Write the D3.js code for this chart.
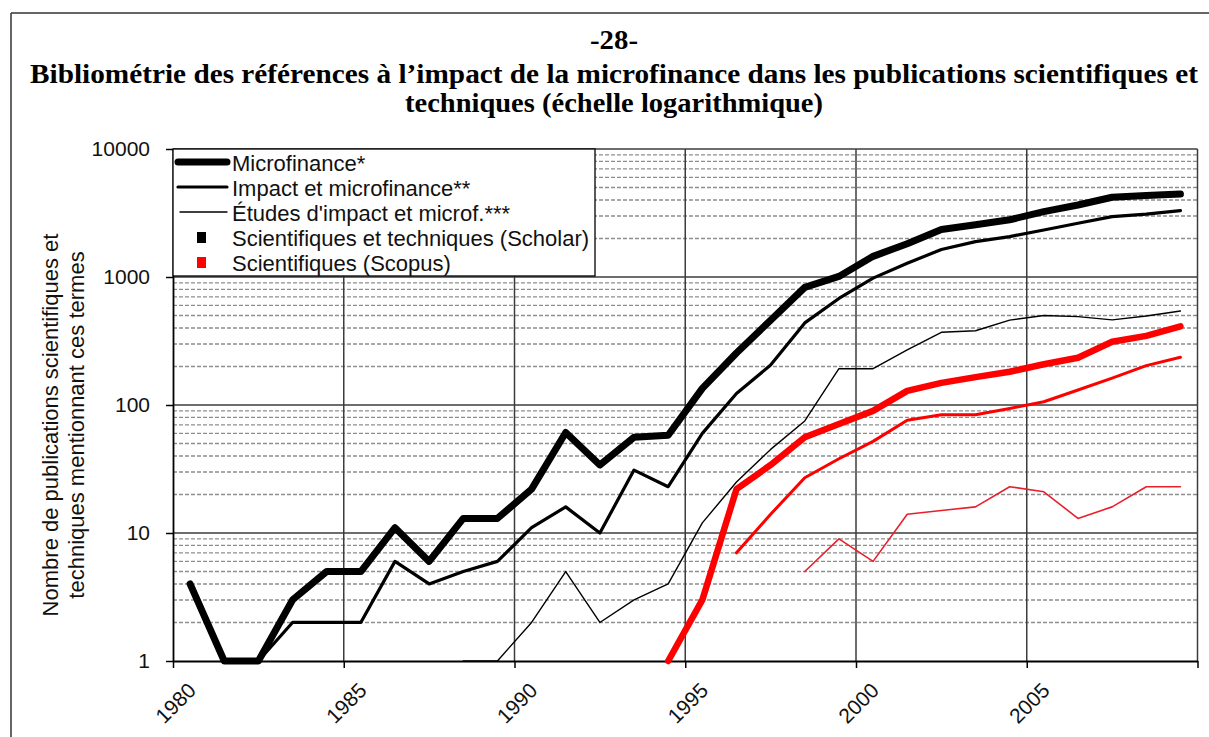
<!DOCTYPE html>
<html>
<head>
<meta charset="utf-8">
<script src="https://cdn.jsdelivr.net/npm/d3@7"></script>
<style>
  html, body { margin: 0; padding: 0; background: #fff; }
  svg { display: block; }
</style>
</head>
<body>
<svg id="chart" width="1209" height="737"></svg>
<script>
// ---------- DATA ----------
const years = [1980,1981,1982,1983,1984,1985,1986,1987,1988,1989,
               1990,1991,1992,1993,1994,1995,1996,1997,1998,1999,
               2000,2001,2002,2003,2004,2005,2006,2007,2008,2009];
// Scholar (black)
const microfinance = [4,1,1,3,5,5,11,6,13,13,22,61,34,56,58,135,255,460,830,1010,1450,1820,2350,2560,2800,3240,3650,4200,4330,4450];
const impactMicro  = [null,null,1,2,2,2,6,4,5,6,11,16,10,31,23,60,123,205,438,680,980,1280,1640,1890,2070,2330,2630,2960,3100,3300];
const etudesImpact = [null,null,null,null,null,null,null,null,1,1,2,5,2,3,4,12,25,45,75,192,192,270,370,380,460,500,490,462,496,543];
// Scopus (red)
const scopusMicro  = [null,null,null,null,null,null,null,null,null,null,null,null,null,null,1,3,22,34,56,71,90,129,149,165,182,208,234,312,347,412];
const scopusImpact = [null,null,null,null,null,null,null,null,null,null,null,null,null,null,null,null,7,14,27,38,52,76,84,84,94,106,131,162,203,236];
const scopusEtudes = [null,null,null,null,null,null,null,null,null,null,null,null,null,null,null,null,null,null,5,9,6,14,15,16,23,21,13,16,23,23];

const xTickYears = [1980,1985,1990,1995,2000,2005,2010];
const yTickValues = [1,10,100,1000,10000];

const titleLines = ["-28-",
  "Bibliométrie des références à l’impact de la microfinance dans les publications scientifiques et",
  "techniques (échelle logarithmique)"];
const yTitleLines = ["Nombre de publications scientifiques et", "techniques mentionnant ces termes"];
const legendLabels = ["Microfinance*", "Impact et microfinance**", "Études d'impact et microf.***",
                      "Scientifiques et techniques (Scholar)", "Scientifiques (Scopus)"];

// ---------- LAYOUT ----------
const svg = d3.select("#chart");
const L = 173, R = 1197.5, T = 149, B = 661;
const sans = "'Liberation Sans', Arial, sans-serif";
const serif = "'Liberation Serif', 'Times New Roman', serif";

svg.append("rect").attr("width",1209).attr("height",737).attr("fill","#fff");

// page frame
svg.append("line").attr("x1",11).attr("x2",1209).attr("y1",13).attr("y2",13).attr("stroke","#333").attr("stroke-width",1.5);
svg.append("line").attr("x1",11).attr("x2",11).attr("y1",13).attr("y2",737).attr("stroke","#333").attr("stroke-width",1.5);

// title
const tY = [49, 83, 112];
const tLen = [48, 1168, 418];
titleLines.forEach((t,i) => {
  svg.append("text").attr("x",614).attr("y",tY[i]).attr("text-anchor","middle")
    .attr("font-family",serif).attr("font-weight","bold").attr("font-size",28).attr("fill","#000")
    .attr("textLength",tLen[i]).attr("lengthAdjust","spacingAndGlyphs").text(t);
});

// scales
const x = d3.scaleLinear().domain([1980,2010]).range([L,R]);
const y = d3.scaleLog().domain([1,10000]).range([B,T]);

// minor gridlines (dashed)
const minor = [];
[1,10,100,1000].forEach(d => { for (let k=2;k<=9;k++) minor.push(d*k); });
svg.append("g").selectAll("line").data(minor).join("line")
  .attr("x1",L).attr("x2",R).attr("y1",d=>y(d)).attr("y2",d=>y(d))
  .attr("stroke","#8e8e8e").attr("stroke-width",1.4).attr("stroke-dasharray","4,2");

// major gridlines
svg.append("g").selectAll("line").data([10,100,1000,10000]).join("line")
  .attr("x1",L).attr("x2",R).attr("y1",d=>y(d)).attr("y2",d=>y(d))
  .attr("stroke","#3c3c3c").attr("stroke-width",1.6);
svg.append("g").selectAll("line").data([1985,1990,1995,2000,2005,2010]).join("line")
  .attr("x1",d=>x(d)).attr("x2",d=>x(d)).attr("y1",T).attr("y2",B)
  .attr("stroke","#3c3c3c").attr("stroke-width",1.5);

// axes
const yAxis = svg.append("g").attr("transform",`translate(${L},0)`)
  .call(d3.axisLeft(y).tickValues(yTickValues).tickFormat(d3.format("d")).tickSize(7).tickSizeOuter(0).tickPadding(16));
const xAxis = svg.append("g").attr("transform",`translate(0,${B})`)
  .call(d3.axisBottom(x).tickValues(xTickYears).tickFormat(d => d < 2010 ? String(d) : "").tickSize(7).tickSizeOuter(0));
[yAxis, xAxis].forEach(a => {
  a.select(".domain").attr("stroke","#000").attr("stroke-width",1.8);
  a.selectAll(".tick line").attr("stroke","#000").attr("stroke-width",1.5);
  a.selectAll("text").attr("font-family",sans).attr("font-size",21).attr("fill","#111");
});
xAxis.selectAll(".tick text")
  .attr("x",0).attr("y",0).attr("dy","0.35em").attr("text-anchor","end")
  .attr("transform","translate(18.5,25.5) rotate(-45)");

// y-axis title
yTitleLines.forEach((t,i) => {
  svg.append("text").attr("transform",`translate(${[50,76][i]},425) rotate(-90)`)
    .attr("text-anchor","middle").attr("dy","0.35em")
    .attr("font-family",sans).attr("font-size",22).attr("fill","#111").text(t);
});

// series
const series = [
  {vals: microfinance, color:"#000", w:7},
  {vals: impactMicro,  color:"#000", w:3.2},
  {vals: etudesImpact, color:"#000", w:1.4},
  {vals: scopusMicro,  color:"#ff0000", w:6.5},
  {vals: scopusImpact, color:"#ff0000", w:3},
  {vals: scopusEtudes, color:"#e8202c", w:1.6}
];
const line = d3.line()
  .defined(d => d.v != null)
  .x(d => x(d.year + 0.5))
  .y(d => y(d.v));
series.forEach(s => {
  const pts = years.map((yr,i) => ({year: yr, v: s.vals[i]}));
  svg.append("path").datum(pts).attr("d",line)
    .attr("fill","none").attr("stroke",s.color).attr("stroke-width",s.w)
    .attr("stroke-linejoin","round").attr("stroke-linecap","round");
});

// legend
const lg = svg.append("g");
lg.append("rect").attr("x",L).attr("y",T).attr("width",595-L).attr("height",276-T)
  .attr("fill","#fff").attr("stroke","#000").attr("stroke-width",1.3);
const rows = [163,188,213,238,263];
const legendKeys = [
  {type:"line", w:7, x1:178},
  {type:"line", w:3.2, x1:178},
  {type:"line", w:1.4, x1:180},
  {type:"mark", color:"#000"},
  {type:"mark", color:"#ff0000"}
];
legendKeys.forEach((k,i) => {
  const cy = rows[i];
  if (k.type === "line") {
    lg.append("line").attr("x1",k.x1).attr("x2",227).attr("y1",cy-1).attr("y2",cy-1)
      .attr("stroke","#000").attr("stroke-width",k.w).attr("stroke-linecap","round");
  } else {
    lg.append("rect").attr("x",197).attr("y",cy-6).attr("width",9).attr("height",11).attr("fill",k.color);
  }
  lg.append("text").attr("x",232).attr("y",cy).attr("dy","0.36em")
    .attr("font-family",sans).attr("font-size",22).attr("fill","#111").text(legendLabels[i]);
});
</script>
</body>
</html>
